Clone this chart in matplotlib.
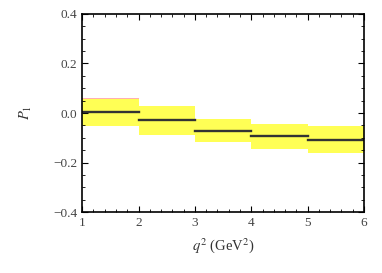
import matplotlib.pyplot as plt
from matplotlib.ticker import MultipleLocator

# q^2 bins and P1 values
bin_edges = [1, 2, 3, 4, 5, 6]
central = [0.003, -0.030, -0.071, -0.094, -0.108]
upper = [0.057, 0.030, -0.024, -0.046, -0.051]
lower = [-0.051, -0.089, -0.116, -0.145, -0.163]
pink_top = [0.062, None, None, None, None]

plt.rcParams['font.family'] = ['Liberation Serif', 'DejaVu Serif']
plt.rcParams['mathtext.fontset'] = 'stix'

fig = plt.figure(figsize=(3.82, 2.73), dpi=100)
ax = fig.add_axes([0.215, 0.223, 0.738, 0.726])

for i in range(len(central)):
    x0, x1 = bin_edges[i], bin_edges[i + 1]
    if pink_top[i] is not None:
        ax.fill_between([x0, x1], upper[i], pink_top[i], color='#ffb0b0', lw=0)
    ax.fill_between([x0, x1], lower[i], upper[i], color='#ffff55', lw=0)
    ax.plot([x0, x1], [central[i], central[i]], color='#333333', lw=1.7)

ax.set_xlim(1, 6)
ax.set_ylim(-0.4, 0.4)
ax.xaxis.set_major_locator(MultipleLocator(1))
ax.xaxis.set_minor_locator(MultipleLocator(0.2))
ax.set_yticks([-0.4, -0.2, 0.0, 0.2, 0.4])
ax.set_yticklabels(['\u22120.4', '\u22120.2', '0.0', '0.2', '0.4'])
ax.yaxis.set_minor_locator(MultipleLocator(0.05))
ax.tick_params(which='both', direction='in', top=True, right=True, labelsize=9.5,
               colors='black', labelcolor='#444444')
ax.tick_params(which='major', length=4)
ax.tick_params(which='minor', length=2)
for s in ax.spines.values():
    s.set_linewidth(1.2)

ax.set_xlabel(r'$q^2$ (GeV$^2$)', fontsize=10.5, color='#333333', labelpad=5)
ax.set_ylabel(r'$P_1$', fontsize=10.5, color='#333333', labelpad=14)

fig.savefig('out.png', dpi=100)
